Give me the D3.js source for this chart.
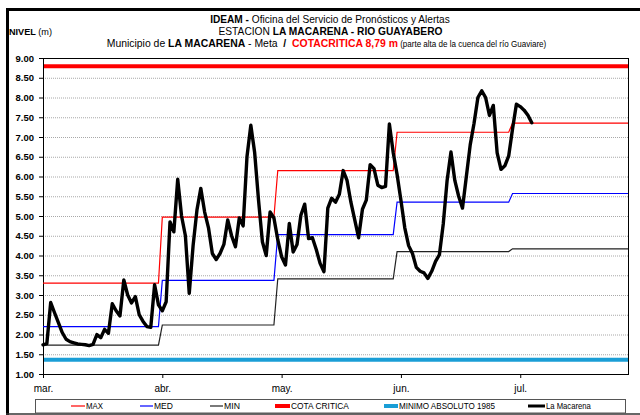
<!DOCTYPE html>
<html><head><meta charset="utf-8">
<script src="https://cdn.jsdelivr.net/npm/d3@7"></script>
<style>
body{margin:0;background:#fff;}
svg{display:block;}
.ax,.nar{font-family:"Liberation Sans",Arial,sans-serif;}
.nar{white-space:pre;}
</style></head><body>
<svg id="c" width="640" height="415"></svg>
<script>
// ---- data ----
const monthLabels = ["mar.","abr.","may.","jun.","jul."];
const tickDays = [0,31,62,93,124];          // day index from 1 March
const monthStartDays = [0,31,61,92,122];    // 1 Mar, 1 Apr, 1 May, 1 Jun, 1 Jul
const lastDay = 152;
const maxVals = [3.30,4.97,6.15,7.12,7.35];
const medVals = [2.20,3.37,4.53,5.35,5.57];
const minVals = [1.73,2.24,3.41,4.10,4.17];
const cotaCritica = 8.79;
const minimoAbsoluto = 1.36;
const yTicks = [1,1.5,2,2.5,3,3.5,4,4.5,5,5.5,6,6.5,7,7.5,8,8.5,9];
// daily level, La Macarena, from 1 March
const macarena = [
1.74,1.77,2.81,2.55,2.30,2.05,1.88,1.82,1.79,1.76,
1.75,1.74,1.72,1.75,2.00,1.92,2.13,2.03,2.78,2.60,
2.47,3.38,3.00,2.80,2.96,2.50,2.33,2.20,2.18,3.26,
2.75,2.60,2.83,4.85,4.60,5.93,5.00,4.50,3.04,4.25,
5.15,5.70,5.10,4.70,4.05,3.90,4.05,4.28,4.90,4.50,
4.22,4.95,4.75,6.50,7.30,6.60,5.40,4.35,4.00,5.10,
4.95,4.40,3.97,3.76,4.81,4.09,4.28,5.02,5.30,4.43,
4.45,4.15,3.80,3.59,5.20,5.45,5.35,5.55,6.15,5.90,
5.35,4.90,4.45,5.17,5.40,6.30,6.20,5.78,5.72,5.75,
7.33,6.60,6.05,5.40,4.70,4.25,4.05,3.70,3.60,3.56,
3.42,3.60,3.85,4.02,4.80,5.90,6.62,5.90,5.50,5.20,
6.00,6.80,7.35,8.00,8.17,8.00,7.55,7.80,6.60,6.18,
6.27,6.52,7.20,7.83,7.77,7.68,7.55,7.36
];
const seriesNames = ["MAX","MED","MIN","COTA CRITICA","MINIMO ABSOLUTO 1985","La Macarena"];
const seriesColors = ["#ff0000","#0000ff","#222222","#ff0000","#1a9ed6","#000000"];

// ---- layout ----
const svg = d3.select("#c");
const L=43, R=628, T=58, B=374;
const x = d3.scaleLinear().domain([0,lastDay]).range([L,R]);
const y = d3.scaleLinear().domain([1,9]).range([B,T]);

// squeeze a text horizontally so that it spans targetW px (emulates a narrow font)
function fit(txt, pos, targetW){
  const w = txt.node().getComputedTextLength();
  const s = targetW / w;
  txt.attr("x", pos / s).attr("transform", `scale(${s},1)`);
}

// outer frame
svg.append("path").attr("d","M7.5,416 V9.5 H641").attr("fill","none").attr("stroke","#000").attr("stroke-width",3);
svg.append("line").attr("x1",6).attr("x2",640).attr("y1",414).attr("y2",414).attr("stroke","#333").attr("stroke-width",1.5);

// grid
svg.append("g").selectAll("line").data(yTicks.filter(v=>v>1&&v<9)).join("line")
 .attr("x1",L).attr("x2",R).attr("y1",d=>y(d)+0.5).attr("y2",d=>y(d)+0.5)
 .attr("stroke","#a8a8a8").attr("stroke-width",1).attr("stroke-dasharray","1,1");

// y axis
const yAxis = d3.axisLeft(y).tickValues(yTicks).tickFormat(d3.format(".2f")).tickSize(4).tickSizeOuter(0);
const gy = svg.append("g").attr("transform",`translate(${L},0)`).call(yAxis);
gy.select(".domain").remove();
gy.selectAll("line").attr("stroke","#000");
gy.selectAll("text").attr("x",-9).attr("class","ax").style("font-size","9.5px").style("font-weight","bold").attr("fill","#000");

// x axis
const xAxis = d3.axisBottom(x).tickValues(tickDays).tickFormat((d,i)=>monthLabels[i]).tickSize(4).tickSizeOuter(0);
const gx = svg.append("g").attr("transform",`translate(0,${B})`).call(xAxis);
gx.select(".domain").remove();
gx.selectAll("line").attr("stroke","#000");
gx.selectAll("text").attr("y",11).attr("class","ax").style("font-size","10px").attr("fill","#000");

// plot border
svg.append("rect").attr("x",L+0.5).attr("y",T+0.5).attr("width",R-L).attr("height",B-T)
 .attr("fill","none").attr("stroke","#000").attr("stroke-width",1);

// reference lines
function hline(v,color,w){
  svg.append("line").attr("x1",L+1).attr("x2",R).attr("y1",y(v)).attr("y2",y(v)).attr("stroke",color).attr("stroke-width",w);
}
hline(cotaCritica,seriesColors[3],4);
hline(minimoAbsoluto,seriesColors[4],4);

// monthly step series
function stepPoints(vals){
  const pts=[];
  vals.forEach((v,i)=>{
    const s=monthStartDays[i];
    const e=(i<vals.length-1)?monthStartDays[i+1]-1:lastDay;
    pts.push([s,v]); pts.push([e,v]);
  });
  return pts;
}
const line = d3.line().x(d=>x(d[0])).y(d=>y(d[1]));
[maxVals,medVals,minVals].forEach((vals,i)=>{
  svg.append("path").attr("d",line(stepPoints(vals))).attr("fill","none").attr("stroke",seriesColors[i]).attr("stroke-width",1.2);
});

// La Macarena
svg.append("path").attr("d",line(macarena.map((v,i)=>[i,v])))
 .attr("fill","none").attr("stroke","#000").attr("stroke-width",3.4).attr("stroke-linejoin","round").attr("stroke-linecap","round");

// titles
const t = svg.append("g").attr("class","nar").attr("text-anchor","middle").attr("fill","#000");
const t1 = t.append("text").attr("class","nar").attr("y",23).style("font-size","11px");
t1.append("tspan").attr("font-weight","bold").text("IDEAM - ");
t1.append("tspan").text("Oficina del Servicio de Pronósticos y Alertas");
fit(t1,330,240);
const t2 = t.append("text").attr("class","nar").attr("y",35).style("font-size","11px");
t2.append("tspan").text("ESTACION ");
t2.append("tspan").attr("font-weight","bold").text("LA MACARENA - RIO GUAYABERO");
fit(t2,330.5,224);
const t3 = t.append("text").attr("class","nar").attr("y",47.5).style("font-size","11px");
t3.append("tspan").text("Municipio de ");
t3.append("tspan").attr("font-weight","bold").text("LA MACARENA");
t3.append("tspan").text(" - Meta  ");
t3.append("tspan").attr("font-weight","bold").text("/  ");
t3.append("tspan").attr("font-weight","bold").attr("fill","#ff0000").text("COTACRITICA 8,79 m");
t3.append("tspan").style("font-size","8.5px").text(" (parte alta de la cuenca del río Guaviare)");
fit(t3,326.5,440);

const nv = svg.append("text").attr("class","nar").attr("y",35).style("font-size","9.5px");
nv.append("tspan").attr("font-weight","bold").text("NIVEL ");
nv.append("tspan").text("(m)");
fit(nv,9,43);

// legend
svg.append("rect").attr("x",35.5).attr("y",399.5).attr("width",590).attr("height",13.5).attr("fill","#fff").attr("stroke","#555").attr("stroke-width",1);
const legX = [[71,85],[140,153],[210,223],[275,290],[384,398],[528,545]];
const legW = [17,19,16,58,96,45];
const legSW = [1.2,1.2,1.2,4,4,3];
const lg = svg.append("g");
seriesNames.forEach((name,i)=>{
  const [a,b]=legX[i];
  lg.append("line").attr("x1",a).attr("x2",b).attr("y1",406).attr("y2",406).attr("stroke",seriesColors[i]).attr("stroke-width",legSW[i]);
  const tx = lg.append("text").attr("class","nar").attr("y",409.5).style("font-size","9px").text(name);
  fit(tx,b+1,legW[i]);
});
</script>
</body></html>
